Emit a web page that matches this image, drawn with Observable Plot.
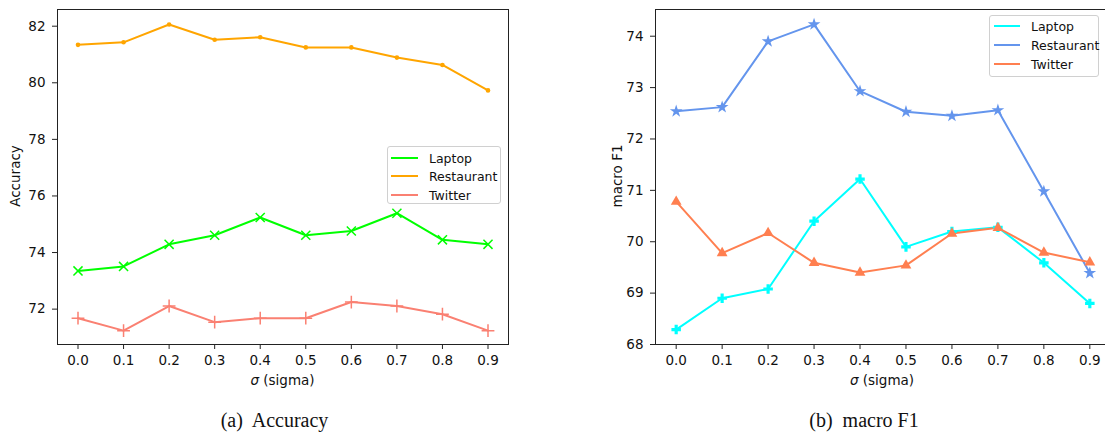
<!DOCTYPE html>
<html>
<head>
<meta charset="utf-8">
<script src="https://cdn.jsdelivr.net/npm/d3@7"></script>
<script src="https://cdn.jsdelivr.net/npm/@observablehq/plot@0.6"></script>
<style>
  html, body { margin: 0; padding: 0; background: #fff; }
  #page { position: relative; width: 1105px; height: 432px; overflow: hidden; font-family: "DejaVu Sans", sans-serif; color: #111; }
  .chart { position: absolute; top: 0; }
  .chart text { font-family: "DejaVu Sans", sans-serif !important; font-size: 13.5px !important; fill: #111; }
  .lbl { position: absolute; font-size: 13.5px; white-space: nowrap; transform: translate(-50%, -50%); }
  .ylbl { position: absolute; font-size: 13.5px; white-space: nowrap; transform: translate(-50%, -50%) rotate(-90deg); }
  .cap { position: absolute; font-family: "Liberation Serif", "Times New Roman", serif; font-size: 20px; white-space: pre; transform: translate(-50%, -50%); }
  .legend { position: absolute; border: 1px solid #d0d0d0; border-radius: 3px; background: rgba(255,255,255,0.85); box-sizing: border-box; }
  .row { position: absolute; left: 0; height: 0; }
  .row .sw { position: absolute; height: 2px; top: -1px; }
  .row .tx { position: absolute; font-size: 12.5px; white-space: nowrap; transform: translateY(-50%); top: 0; }
</style>
</head>
<body>
<div id="page"></div>
<script>
// ---- data ----
const sigma = [0.0, 0.1, 0.2, 0.3, 0.4, 0.5, 0.6, 0.7, 0.8, 0.9];
const xTickLabels = ["0.0", "0.1", "0.2", "0.3", "0.4", "0.5", "0.6", "0.7", "0.8", "0.9"];
const series = ["Laptop", "Restaurant", "Twitter"];

const accLaptop     = [73.35, 73.51, 74.29, 74.61, 75.24, 74.61, 74.76, 75.39, 74.45, 74.29];
const accRestaurant = [81.34, 81.43, 82.06, 81.52, 81.61, 81.25, 81.25, 80.89, 80.63, 79.73];
const accTwitter    = [71.68, 71.24, 72.11, 71.54, 71.68, 71.68, 72.25, 72.11, 71.82, 71.24];

const f1Laptop     = [68.29, 68.90, 69.08, 70.40, 71.22, 69.90, 70.20, 70.28, 69.59, 68.80];
const f1Restaurant = [72.54, 72.62, 73.90, 74.23, 72.93, 72.53, 72.45, 72.56, 70.98, 69.39];
const f1Twitter    = [70.78, 69.78, 70.17, 69.59, 69.40, 69.54, 70.16, 70.27, 69.79, 69.60];

const accTicks = [72, 74, 76, 78, 80, 82];
const f1Ticks = [68, 69, 70, 71, 72, 73, 74];

const accColors = ["#00ff00", "#ffa500", "#fa8072"];
const f1Colors = ["#00ffff", "#6495ed", "#ff7f50"];

function tidy(arrs) {
  const out = [];
  arrs.forEach((a, i) => a.forEach((v, j) => out.push({series: series[i], x: sigma[j], y: v})));
  return out;
}
const accData = tidy([accLaptop, accRestaurant, accTwitter]);
const f1Data = tidy([f1Laptop, f1Restaurant, f1Twitter]);

const page = document.getElementById("page");
const common = {
  style: {fontFamily: "DejaVu Sans, sans-serif", fontSize: "13.5px", color: "#111", background: "transparent", overflow: "visible"},
};
const axX = () => Plot.axisX({ticks: sigma, tickFormat: (d, i) => xTickLabels[i], tickSize: 5, tickPadding: 6, fontSize: 13.5, label: null, stroke: "#222"});
const axY = (ticks) => Plot.axisY({ticks, tickFormat: d => String(d), tickSize: 5, tickPadding: 7, fontSize: 13.5, label: null, stroke: "#222"});

// ---- left chart: Accuracy ----
const left = Plot.plot({
  ...common,
  width: 520, height: 392,
  marginLeft: 57, marginRight: 12, marginTop: 9, marginBottom: 48,
  x: {domain: [-0.045, 0.945]},
  y: {domain: [70.75, 82.59]},
  color: {domain: series, range: accColors},
  marks: [
    axX(), axY(accTicks),
    Plot.line(accData, {x: "x", y: "y", stroke: "series", strokeWidth: 2}),
    Plot.dot(accData.filter(d => d.series === "Laptop"), {x: "x", y: "y", symbol: "times", stroke: "series", r: 4.2, strokeWidth: 1.5}),
    Plot.dot(accData.filter(d => d.series === "Restaurant"), {x: "x", y: "y", symbol: "circle", fill: "series", r: 2.3}),
    Plot.dot(accData.filter(d => d.series === "Twitter"), {x: "x", y: "y", symbol: "plus", stroke: "series", r: 4.2, strokeWidth: 1.5}),
    Plot.frame({stroke: "#222", strokeWidth: 1})
  ]
});
left.classList.add("chart");
left.style.left = "0px";
page.appendChild(left);

// ---- right chart: macro F1 ----
const right = Plot.plot({
  ...common,
  width: 560, height: 392,
  marginLeft: 95, marginRight: 10, marginTop: 9, marginBottom: 48,
  x: {domain: [-0.045, 0.945]},
  y: {domain: [68.0, 74.52]},
  color: {domain: series, range: f1Colors},
  marks: [
    axX(), axY(f1Ticks),
    Plot.line(f1Data, {x: "x", y: "y", stroke: "series", strokeWidth: 2}),
    Plot.dot(f1Data.filter(d => d.series === "Laptop"), {x: "x", y: "y", symbol: "cross", fill: "series", r: 4}),
    Plot.dot(f1Data.filter(d => d.series === "Restaurant"), {x: "x", y: "y", symbol: "star", fill: "series", r: 4}),
    Plot.dot(f1Data.filter(d => d.series === "Twitter"), {x: "x", y: "y", symbol: "triangle", fill: "series", r: 4}),
    Plot.frame({stroke: "#222", strokeWidth: 1})
  ]
});
right.classList.add("chart");
right.style.left = "560px";
page.appendChild(right);

// ---- labels, captions ----
function add(cls, text, x, y, html) {
  const d = document.createElement("div");
  d.className = cls;
  if (html) d.innerHTML = text; else d.textContent = text;
  d.style.left = x + "px"; d.style.top = y + "px";
  page.appendChild(d);
}
add("ylbl", "Accuracy", 15, 176);
add("ylbl", "macro F1", 617, 176);
add("lbl", "<i>σ</i> (sigma)", 282.5, 380, true);
add("lbl", "<i>σ</i> (sigma)", 882, 380, true);
add("cap", "(a)  Accuracy", 274.5, 420);
add("cap", "(b)  macro F1", 864, 420);

// ---- legends ----
function legend(x, y, w, h, colors, rowsY, swX, swW, txX) {
  const box = document.createElement("div");
  box.className = "legend";
  Object.assign(box.style, {left: x + "px", top: y + "px", width: w + "px", height: h + "px"});
  series.forEach((s, i) => {
    const r = document.createElement("div");
    r.className = "row";
    r.style.top = rowsY[i] + "px";
    const sw = document.createElement("div");
    sw.className = "sw";
    Object.assign(sw.style, {left: swX + "px", width: swW + "px", background: colors[i]});
    const tx = document.createElement("div");
    tx.className = "tx";
    tx.style.left = txX + "px";
    tx.textContent = s;
    r.appendChild(sw); r.appendChild(tx);
    box.appendChild(r);
  });
  page.appendChild(box);
}
legend(387, 146, 114, 58, accColors, [10.5, 29, 47.5], 3, 27, 41);
legend(989, 15, 110, 62, f1Colors, [10, 28.5, 47.5], 4, 26, 41);
</script>
</body>
</html>
